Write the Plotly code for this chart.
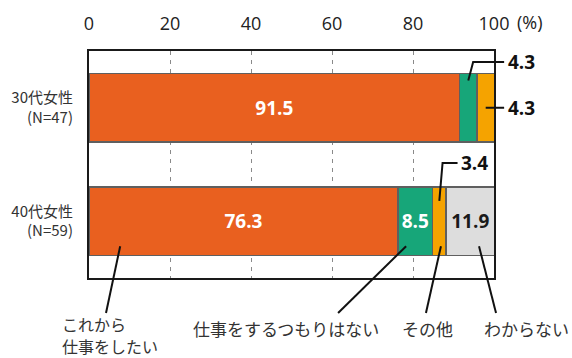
import plotly.graph_objects as go

# ---------------- data ----------------
groups = ["30代女性<br>(N=47)", "40代女性<br>(N=59)"]
series_names = ["これから仕事をしたい", "仕事をするつもりはない", "その他", "わからない"]
want_work = [91.5, 76.3]
no_work = [4.3, 8.5]
other = [4.3, 3.4]
dont_know = [None, 11.9]
x_ticks = [0, 20, 40, 60, 80, 100]
x_ticktext = ["0", "20", "40", "60", "80", "100"]

values = [want_work, no_work, other, dont_know]
colors = ["#E9601F", "#17A679", "#F5A300", "#DDDDDD"]
inside_shown = [[True, True], [False, True], [False, False], [False, True]]
text_colors = ["white", "white", "white", "#1a1a1a"]

W, H = 572, 358
ML, MR, MT, MB = 89, 78, 51, 80
PH = H - MT - MB
PW = W - ML - MR

FONT = "Open Sans, Noto Sans CJK JP, sans-serif"
JFONT = "Noto Sans CJK JP, Open Sans, sans-serif"

fig = go.Figure()
for name, vals, col, show, tcol in zip(series_names, values, colors, inside_shown, text_colors):
    txt = [f"{v:.1f}" if (s and v is not None) else "" for v, s in zip(vals, show)]
    fig.add_trace(go.Bar(
        y=groups, x=vals, name=name, orientation="h",
        marker=dict(color=col, line=dict(color="#5f5f5f", width=1.5)),
        text=txt, textposition="inside", insidetextanchor="middle",
        textangle=0, constraintext="none",
        textfont=dict(family=FONT, size=19, color=tcol, weight="bold"),
        hoverinfo="skip",
    ))

def ypx(px):
    """pixel row -> paper y"""
    return (H - MB - px) / PH

def xpx(px):
    return (px - ML) / PW

def cat_paper(idx):
    # reversed category axis range [1.5, -0.5]
    return (1.5 - idx) / 2.0

shapes = []
annots = []
line_style = dict(color="#111111", width=2)

def seg_center(gi, si):
    start = sum((values[k][gi] or 0) for k in range(si))
    return (start + (values[si][gi] or 0) / 2) / 100.0

# --- outside labels with elbow leader lines ---
xc = seg_center(0, 1)
y_top = ypx(62)
shapes.append(dict(type="path", xref="paper", yref="paper",
                   path=f"M {xc:.4f},{cat_paper(0)+0.12:.4f} L {xc+0.012:.4f},{y_top:.4f} L 1.025,{y_top:.4f}",
                   line=line_style))
annots.append(dict(x=1.03, y=y_top, xref="paper", yref="paper", text=f"<b>{no_work[0]:.1f}</b>",
                   showarrow=False, xanchor="left", yanchor="middle",
                   font=dict(family=FONT, size=19, color="#111")))
xc = seg_center(0, 2)
yc = cat_paper(0)
shapes.append(dict(type="line", xref="paper", yref="paper", x0=xc, x1=1.025, y0=yc, y1=yc, line=line_style))
annots.append(dict(x=1.03, y=yc, xref="paper", yref="paper", text=f"<b>{other[0]:.1f}</b>",
                   showarrow=False, xanchor="left", yanchor="middle",
                   font=dict(family=FONT, size=19, color="#111")))
xc = seg_center(1, 2)
y_lab = ypx(163)
shapes.append(dict(type="path", xref="paper", yref="paper",
                   path=f"M {xc:.4f},{cat_paper(1)+0.09:.4f} L {xc+0.008:.4f},{y_lab:.4f} L {xc+0.045:.4f},{y_lab:.4f}",
                   line=line_style))
annots.append(dict(x=xc + 0.048, y=y_lab, xref="paper", yref="paper", text=f"<b>{other[1]:.1f}</b>",
                   showarrow=False, xanchor="left", yanchor="middle",
                   font=dict(family=FONT, size=19, color="#111")))

# --- bottom category callouts ---
y_start = cat_paper(1) - 0.11
y_end = ypx(313)
callouts = [
    (0.077, 0.042),
    (0.783, 0.615),
    (0.869, 0.832),
    (0.963, 1.005),
]
for (x0, x1) in callouts:
    shapes.append(dict(type="line", xref="paper", yref="paper", x0=x0, x1=x1, y0=y_start, y1=y_end,
                       line=line_style))

jfont = dict(family=JFONT, size=17, color="#333333")
jfont_small = dict(family=JFONT, size=16, color="#333333")
annots.append(dict(x=xpx(60), y=ypx(324), xref="paper", yref="paper",
                   text="これから", showarrow=False, xanchor="left", yanchor="middle", font=jfont_small))
annots.append(dict(x=xpx(60), y=ypx(346), xref="paper", yref="paper",
                   text="仕事をしたい", showarrow=False, xanchor="left", yanchor="middle", font=jfont_small))
annots.append(dict(x=xpx(286), y=ypx(328), xref="paper", yref="paper",
                   text=series_names[1], showarrow=False, xanchor="center", yanchor="middle", font=jfont))
annots.append(dict(x=xpx(427), y=ypx(328), xref="paper", yref="paper",
                   text=series_names[2], showarrow=False, xanchor="center", yanchor="middle", font=jfont))
annots.append(dict(x=xpx(526), y=ypx(328), xref="paper", yref="paper",
                   text=series_names[3], showarrow=False, xanchor="center", yanchor="middle", font=jfont))

annots.append(dict(x=1.0, y=1.0, xref="paper", yref="paper", text="(%)", showarrow=False,
                   xanchor="left", yanchor="middle", xshift=21, yshift=29,
                   font=dict(family=FONT, size=18, color="#222")))

fig.update_layout(
    width=W, height=H,
    margin=dict(l=ML, r=MR, t=MT, b=MB, pad=0, autoexpand=False),
    barmode="stack", bargap=0.4,
    showlegend=False,
    plot_bgcolor="white", paper_bgcolor="white",
    shapes=shapes, annotations=annots,
    xaxis=dict(
        side="top", range=[0, 100], tickvals=x_ticks, ticktext=x_ticktext,
        showgrid=True, gridcolor="#8a8a8a", gridwidth=1, griddash="4px,5px",
        zeroline=False, showline=True, mirror=True, linecolor="#1a1a1a", linewidth=2,
        ticks="", ticklabelstandoff=12, automargin=False,
        tickfont=dict(family=FONT, size=18, color="#222"),
        fixedrange=True,
    ),
    yaxis=dict(
        type="category", categoryorder="array", categoryarray=groups,
        range=[1.5, -0.5], showgrid=False, zeroline=False,
        showline=True, mirror=True, linecolor="#1a1a1a", linewidth=2,
        ticks="", ticklabelstandoff=11, automargin=False,
        tickfont=dict(family=JFONT, size=15, color="#333"),
        fixedrange=True,
    ),
)

fig.write_html("out.html")
